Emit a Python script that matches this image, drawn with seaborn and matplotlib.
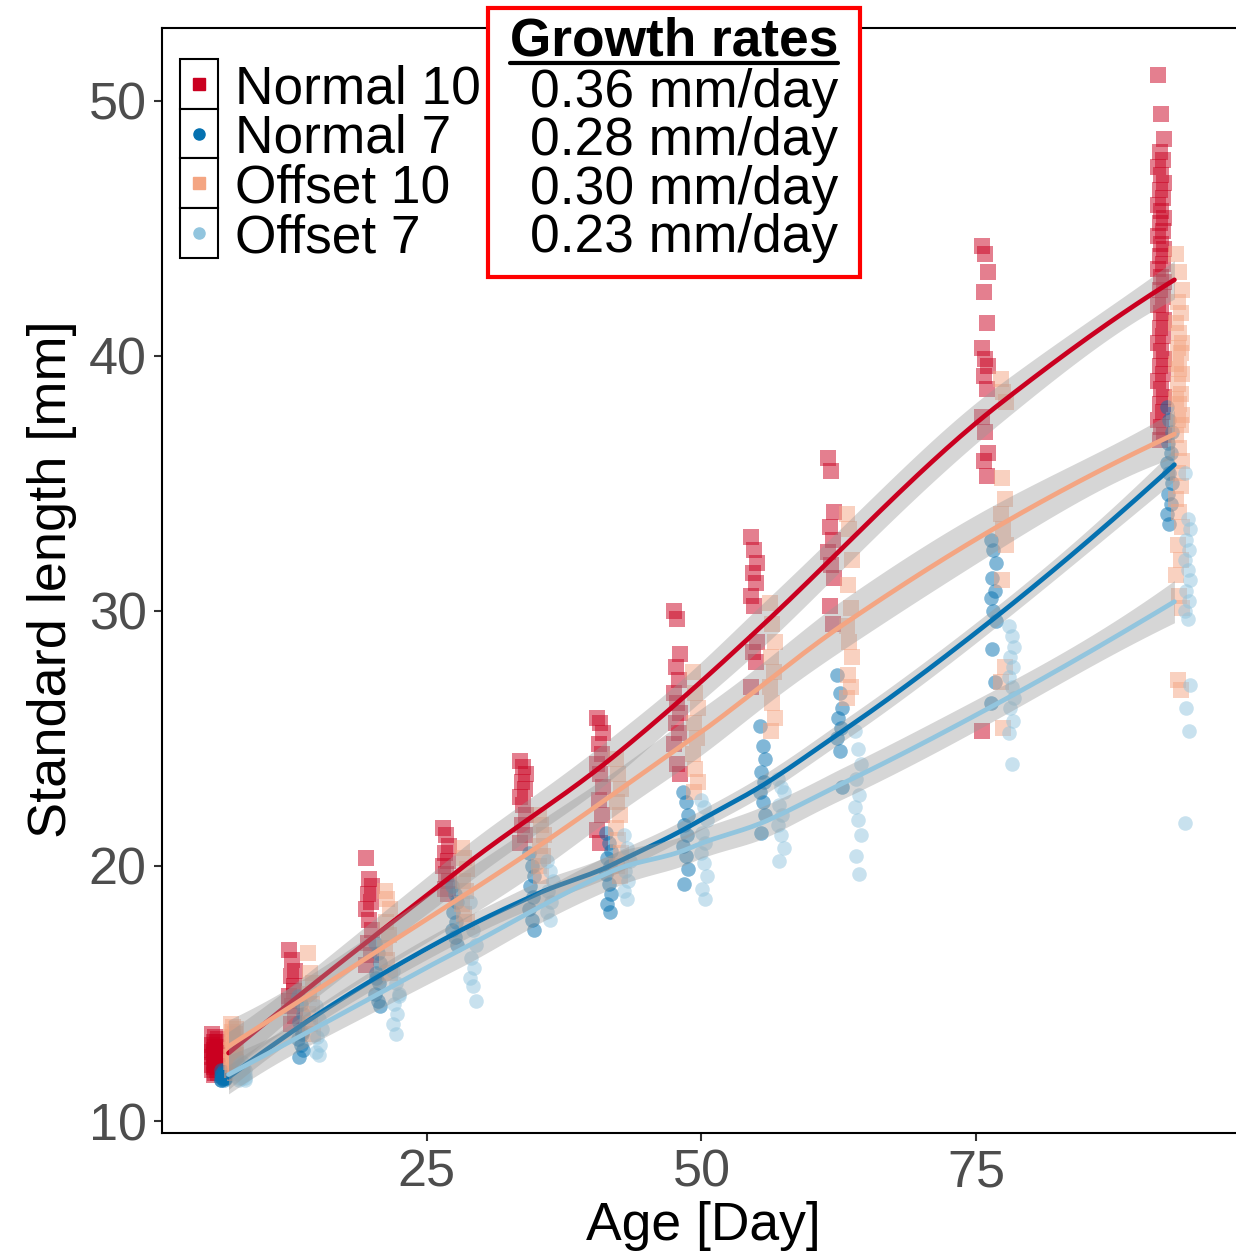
import numpy as np
import pandas as pd
import matplotlib
matplotlib.use("Agg")
import matplotlib.pyplot as plt
import seaborn as sns
from matplotlib.patches import Rectangle
from matplotlib.lines import Line2D

# ---------------- data ----------------
DAYS = [7, 14, 21, 28, 35, 42, 49, 56, 63, 77, 93]
GROUPS = ["Normal 10", "Normal 7", "Offset 10", "Offset 7"]
RATES = ["0.36 mm/day", "0.28 mm/day", "0.30 mm/day", "0.23 mm/day"]
X_TICKS = [25, 50, 75]
Y_TICKS = [10, 20, 30, 40, 50]

normal10 = [
    [13.4, 13.3, 13.2, 13.1, 13.1, 13.0, 12.9, 12.9, 12.8, 12.8, 12.7, 12.7, 12.6, 12.6, 12.5, 12.5,
     12.4, 12.4, 12.3, 12.3, 12.2, 12.2, 12.1, 12.1, 12.0, 12.0, 11.9, 11.9, 11.8, 12.6, 12.8, 12.4],
    [16.7, 16.3, 15.9, 15.7, 15.3, 14.9, 14.5, 14.1, 13.8, 15.1, 14.7],
    [20.3, 19.5, 19.2, 18.9, 18.6, 18.3, 17.9, 17.5, 17.0, 16.5, 16.1],
    [21.5, 21.2, 20.8, 20.5, 20.2, 20.0, 19.7, 19.4, 19.1, 18.9],
    [24.1, 23.9, 23.6, 23.3, 23.0, 22.7, 22.4, 22.0, 21.6, 21.2, 20.9],
    [25.8, 25.6, 25.2, 24.8, 24.4, 24.0, 23.6, 23.1, 22.6, 22.0, 21.4, 20.9],
    [30.0, 29.7, 28.3, 27.8, 27.3, 26.8, 26.4, 26.0, 25.6, 25.2, 24.8, 24.0, 23.6],
    [32.9, 32.4, 31.9, 31.5, 31.1, 30.6, 30.2, 28.8, 28.4, 28.0, 27.0],
    [36.0, 35.5, 33.9, 33.3, 32.8, 32.3, 31.8, 31.3, 30.2, 29.5],
    [44.3, 44.0, 43.3, 42.5, 41.3, 40.3, 39.9, 39.6, 39.2, 38.7, 37.6, 37.0, 36.2, 35.9, 35.3, 25.3],
    [51.0, 49.5, 48.5, 48.0, 47.7, 47.4, 47.1, 46.8, 46.5, 46.2, 45.9, 45.7, 45.4, 45.2, 44.9,
     44.7, 44.4, 44.2, 43.9, 43.6, 43.4, 43.1, 42.9, 42.6, 42.3, 42.0, 41.7, 41.4, 41.1, 40.8,
     40.5, 40.2, 39.9, 39.6, 39.3, 39.0, 38.7, 38.4, 38.1, 37.8, 37.5, 37.2, 36.9, 36.7],
]
normal7 = [
    [11.6, 11.6, 11.7, 11.7, 11.7, 11.8, 11.8, 11.8, 11.9, 11.9, 12.0, 12.0, 11.9, 11.8, 11.7,
     11.6, 11.8, 11.9, 11.7, 11.8],
    [14.9, 14.6, 14.2, 13.9, 13.5, 13.2, 13.0, 12.8, 12.5, 13.4],
    [17.0, 16.6, 16.2, 15.8, 15.4, 15.0, 14.7, 14.5, 15.6],
    [19.2, 18.9, 18.6, 18.2, 17.8, 17.5, 17.2, 16.9],
    [20.5, 20.0, 19.6, 19.2, 18.8, 18.3, 17.9, 17.5],
    [21.3, 20.9, 20.6, 20.3, 20.0, 19.7, 19.3, 18.9, 18.5, 18.2],
    [22.9, 22.5, 22.0, 21.6, 21.2, 20.8, 20.4, 19.9, 19.3],
    [25.5, 24.7, 24.2, 23.7, 23.3, 22.9, 22.5, 22.0, 21.3],
    [27.5, 26.8, 26.2, 25.8, 25.4, 25.0, 24.5, 23.1],
    [32.8, 32.4, 31.9, 31.3, 30.8, 30.5, 30.0, 29.6, 28.5, 27.2, 26.4],
    [38.0, 37.5, 37.0, 36.6, 36.2, 35.8, 35.4, 35.0, 34.6, 34.2, 33.8, 33.4],
]
offset10 = [
    [13.8, 13.7, 13.6, 13.5, 13.4, 13.3, 13.3, 13.1, 13.0, 12.9, 12.8, 12.7, 12.6, 12.5, 12.4,
     12.3, 12.2, 12.1, 12.0, 11.9, 12.5, 12.8, 12.3, 13.2, 12.6],
    [16.6, 15.8, 15.4, 15.0, 14.6, 14.2, 13.8, 13.4],
    [19.0, 18.7, 18.3, 17.8, 17.3, 16.8, 16.3, 15.8],
    [20.7, 20.3, 19.9, 19.4, 19.0, 18.5, 18.1, 17.8],
    [22.0, 21.6, 21.2, 20.8, 20.4, 20.0, 19.6],
    [24.2, 23.6, 23.0, 22.5, 22.0, 21.5, 21.0, 20.5, 20.0, 19.6],
    [27.6, 26.8, 26.2, 25.6, 25.0, 24.4, 23.8, 23.3, 22.9],
    [30.3, 29.5, 28.8, 28.2, 27.6, 27.0, 26.4, 25.8, 25.3],
    [33.8, 33.2, 32.0, 31.0, 30.1, 29.4, 28.8, 28.2, 27.5, 27.0, 26.6],
    [39.1, 38.6, 38.2, 35.2, 34.4, 33.8, 33.2, 32.6, 31.2, 27.8, 27.2, 25.4],
    [44.0, 43.3, 42.6, 42.1, 41.7, 41.3, 40.9, 40.5, 40.3, 40.1, 39.7, 39.5, 39.3, 38.9, 38.5,
     38.3, 38.1, 37.7, 37.5, 37.3, 36.9, 36.4, 35.9, 35.4, 34.9, 34.4, 33.9, 33.3, 32.6, 32.0,
     31.4, 30.6, 30.1, 27.3, 26.9],
]
offset7 = [
    [11.6, 11.7, 11.7, 11.8, 11.8, 11.9, 11.9, 12.0, 12.0, 12.1, 12.2, 12.3, 11.8, 11.9, 12.0, 11.7,
     12.1, 11.6],
    [14.5, 14.0, 13.6, 13.3, 13.0, 12.7, 12.6],
    [15.9, 15.4, 15.0, 14.6, 14.2, 13.8, 13.4, 14.9],
    [18.6, 17.5, 16.9, 16.4, 16.0, 15.6, 15.3, 14.7],
    [20.2, 19.8, 19.4, 19.0, 18.6, 18.2, 17.9],
    [21.2, 20.7, 20.2, 19.8, 19.4, 19.0, 18.7],
    [22.6, 22.3, 21.8, 21.3, 20.9, 20.5, 20.1, 19.6, 19.1, 18.7],
    [23.4, 23.1, 22.9, 22.4, 22.0, 21.6, 21.2, 20.7, 20.2],
    [25.3, 24.6, 24.0, 23.4, 22.8, 22.3, 21.8, 21.2, 20.4, 19.7],
    [29.4, 29.0, 28.6, 28.2, 27.8, 27.4, 27.0, 26.6, 26.2, 25.7, 25.2, 24.0],
    [35.4, 33.6, 33.2, 32.8, 32.4, 32.0, 31.6, 31.2, 30.8, 30.4, 30.0, 29.7, 27.1, 26.2, 25.3, 21.7],
]
SERIES = [normal10, normal7, offset10, offset7]

# ---------------- style ----------------
COLORS = ["#CA0020", "#0571B0", "#F4A582", "#92C5DE"]
MARKERS = ["s", "o", "s", "o"]
DODGE = [-1.2, -0.45, 0.45, 1.2]

sns.set_style("white")
plt.rcParams["font.family"] = ["Liberation Sans", "DejaVu Sans"]
plt.rcParams["text.color"] = "black"

W, H = 1236, 1254
fig = plt.figure(figsize=(W / 100, H / 100), dpi=100)
ax = fig.add_axes([162 / W, 1 - 1133 / H, (1236 - 162) / W, (1133 - 28) / H])


def loess(x, y, grid, span=0.75, cell=0.2):
    """Local quadratic loess (tricube weights), kd-tree vertices + cubic Hermite
    interpolation, as in R's loess(surface = "interpolate")."""
    x = np.asarray(x, float)
    y = np.asarray(y, float)
    n = len(x)
    q = int(np.floor(n * span))
    fc = int(np.floor(n * span * cell))
    xs = np.sort(x)

    def op(x0):
        d = np.abs(x - x0)
        h = max(np.sort(d)[q - 1], 1e-9) * 1.0000001
        w = np.clip(1 - (d / h) ** 3, 0, 1) ** 3
        X = np.column_stack([np.ones(n), x - x0, (x - x0) ** 2])
        XtW = X.T * w
        M = np.linalg.solve(XtW @ X, XtW)
        return M[0], M[1]

    mu = 0.005 * (xs[-1] - xs[0])
    verts = {xs[0] - mu, xs[-1] + mu}

    def build(l, u, lo_v, hi_v):
        if u - l + 1 <= fc:
            return
        m = (l + u) // 2
        off = 0
        while l <= m + off < u:
            if xs[m + off] == xs[m + off + 1]:
                off = -off
                if off >= 0:
                    off += 1
            else:
                m = m + off
                break
        split = xs[m]
        if split == lo_v or split == hi_v:
            return
        verts.add(split)
        build(l, m, lo_v, split)
        build(m + 1, u, split, hi_v)

    build(0, n - 1, xs[0] - mu, xs[-1] + mu)
    verts = np.array(sorted(verts))
    ops = [op(v) for v in verts]

    def row(g):
        k = np.searchsorted(verts, g, side="right") - 1
        k = min(max(k, 0), len(verts) - 2)
        a, b = verts[k], verts[k + 1]
        hh = b - a
        t = (g - a) / hh
        h00 = 2 * t ** 3 - 3 * t ** 2 + 1
        h10 = t ** 3 - 2 * t ** 2 + t
        h01 = -2 * t ** 3 + 3 * t ** 2
        h11 = t ** 3 - t ** 2
        return (h00 * ops[k][0] + h10 * hh * ops[k][1]
                + h01 * ops[k + 1][0] + h11 * hh * ops[k + 1][1])

    L = np.array([row(v) for v in x])
    R = np.eye(n) - L
    res = R @ y
    sigma = np.sqrt(np.sum(res ** 2) / np.trace(R.T @ R))
    fit, se = [], []
    for g in grid:
        l = row(g)
        fit.append(l @ y)
        se.append(sigma * np.sqrt(np.sum(l ** 2)))
    fit = np.array(fit)
    se = np.array(se)
    return fit, fit - 1.98 * se, fit + 1.98 * se


# long table
rows = []
for gname, series, dx in zip(GROUPS, SERIES, DODGE):
    for day, vals in zip(DAYS, series):
        for i, v in enumerate(vals):
            wob = (((i * 7) % 5) - 2) * 0.13
            rows.append({"group": gname, "day": day, "x": day + dx + wob, "length": v})
df = pd.DataFrame(rows)

# points
for gname, col, mk in zip(GROUPS, COLORS, MARKERS):
    sub = df[df.group == gname]
    sns.scatterplot(data=sub, x="x", y="length", color=col, marker=mk,
                    s=125 if mk == "s" else 110, alpha=0.5, linewidth=0,
                    ax=ax, zorder=2, legend=False)

# smooths
grid = np.linspace(min(DAYS), max(DAYS), 200)
z = 3
for gname, col in zip(GROUPS, COLORS):
    sub = df[df.group == gname]
    fit, lo, hi = loess(sub.day.values, sub.length.values, grid)
    ax.fill_between(grid, lo, hi, color="#999999", alpha=0.4, linewidth=0, zorder=z)
    sm = pd.DataFrame({"day": grid, "fit": fit})
    sns.lineplot(data=sm, x="day", y="fit", color=col, linewidth=3.4, ax=ax,
                 zorder=z + 1, legend=False)
    z += 2

ax.set_xlim(0.95, 98.6)
ax.set_ylim(9.53, 52.86)
ax.set_xticks(X_TICKS)
ax.set_yticks(Y_TICKS)
ax.set_xlabel("")
ax.set_ylabel("")
ax.tick_params(axis="both", which="major", length=6, width=1.5, color="#333333",
               labelcolor="#4D4D4D", labelsize=37.5, pad=5, direction="out",
               bottom=True, left=True)
for side in ["left", "bottom", "top"]:
    ax.spines[side].set_visible(True)
    ax.spines[side].set_color("black")
    ax.spines[side].set_linewidth(1.5)
ax.spines["right"].set_visible(False)
ax.grid(False)

# axis titles
fig.text(703 / W, 1 - 1226 / H, "Age [Day]", ha="center", va="center", fontsize=38.5)
fig.text(52 / W, 1 - 579 / H, "Standard length [mm]", rotation=90,
         ha="center", va="center", fontsize=39)

# legend (manual, boxed keys)
key_h = 49.7
for i, (gname, col, mk) in enumerate(zip(GROUPS, COLORS, MARKERS)):
    top = 59 + key_h * i
    fig.add_artist(Rectangle((180 / W, 1 - (top + key_h) / H), 38 / W, key_h / H,
                             transform=fig.transFigure, facecolor="white",
                             edgecolor="black", linewidth=1.5, zorder=10))
    fig.add_artist(Line2D([199 / W], [1 - (top + key_h / 2) / H], marker=mk,
                          color=col, markersize=8.5 if mk == "s" else 8,
                          linestyle="none", transform=fig.transFigure, zorder=11))
    fig.text(235 / W, 1 - (103 + key_h * i) / H, gname, ha="left", va="baseline",
             fontsize=38.3, zorder=11)

# growth-rate box
fig.add_artist(Rectangle((488 / W, 1 - 277 / H), (860 - 488) / W, (277 - 8) / H,
                         transform=fig.transFigure, facecolor="white",
                         edgecolor="#FF0000", linewidth=3, zorder=20))
fig.text(674 / W, 1 - 55 / H, "Growth rates", ha="center", va="baseline",
         fontsize=38.3, fontweight="bold", zorder=21)
fig.add_artist(Line2D([510 / W, 838 / W], [1 - 63 / H, 1 - 63 / H], color="black",
                      linewidth=3, transform=fig.transFigure, zorder=21))
for i, r in enumerate(RATES):
    fig.text(838 / W, 1 - (107 + 48.3 * i) / H, r, ha="right", va="baseline",
             fontsize=38.3, zorder=21)

fig.savefig("out.png", dpi=100)
